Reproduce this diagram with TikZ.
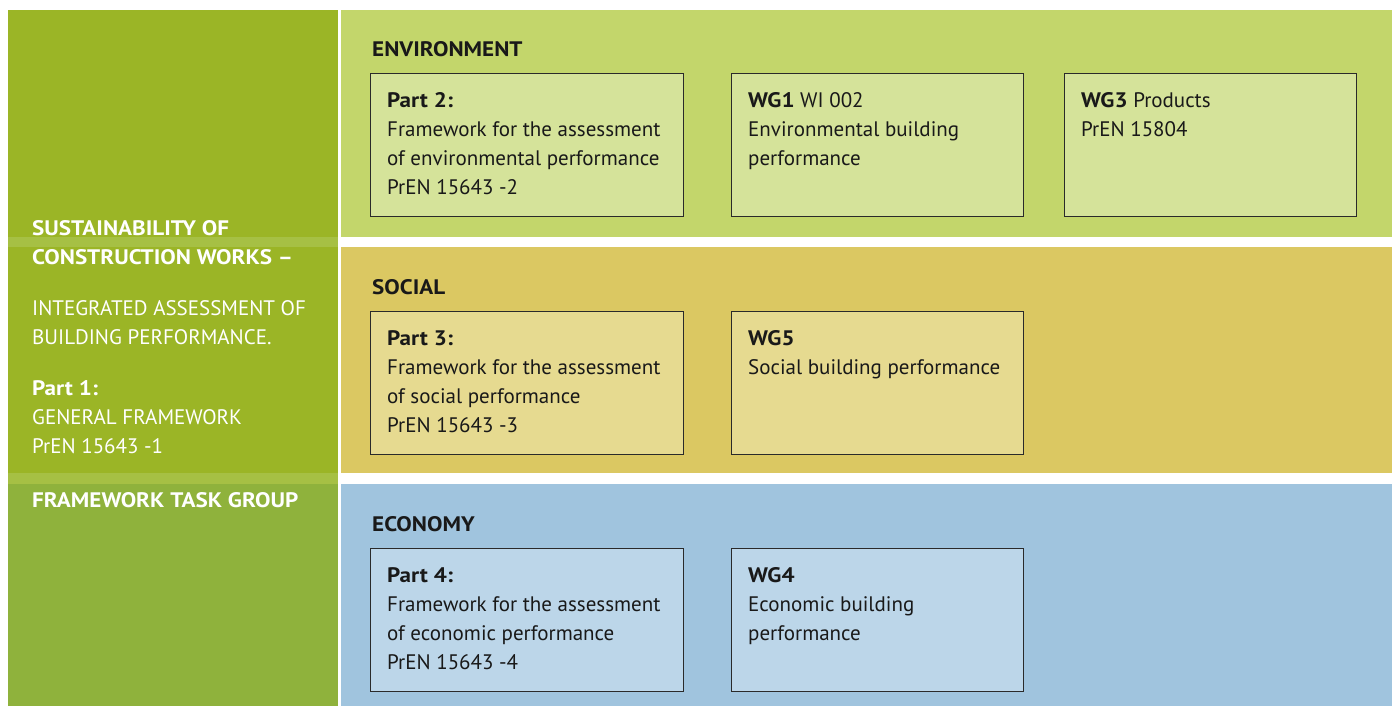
\documentclass[tikz,border=0pt]{standalone}
\usepackage{fontspec}
\setmainfont{PT Sans}[BoldFeatures={FakeStretch=1.1}]
\usetikzlibrary{positioning}

\definecolor{leftgreen}{HTML}{9BB526}
\definecolor{leftlight}{HTML}{A6C044}
\definecolor{leftlow}{HTML}{8FB23C}
\definecolor{envband}{HTML}{C3D66B}
\definecolor{envbox}{HTML}{D5E39A}
\definecolor{socband}{HTML}{DBC862}
\definecolor{socbox}{HTML}{E6DA90}
\definecolor{ecoband}{HTML}{A0C4DE}
\definecolor{ecobox}{HTML}{BCD6E9}
\definecolor{boxline}{HTML}{2A2A2A}

\tikzset{
  band/.style={draw=none, rectangle, anchor=north west, inner sep=0pt, minimum width=1051pt},
  partbox/.style={draw=boxline, line width=1.4pt, rectangle, anchor=north west, inner sep=0pt,
                  minimum height=143pt},
  boxtext/.style={anchor=north west, inner sep=0pt, align=left, text=black!90,
                  font=\fontsize{21}{29}\selectfont},
  head/.style={anchor=base west, inner sep=0pt, font=\fontsize{21}{29}\selectfont\bfseries, text=black!90},
  lefttext/.style={anchor=north west, inner sep=0pt, align=left, text=white,
                  font=\fontsize{21}{29}\selectfont}
}

\begin{document}
\begin{tikzpicture}[x=1pt, y=-1pt]
  \useasboundingbox (0,0) rectangle (1392,706);

  % left column
  \node (leftup) [band, fill=leftgreen, minimum width=330pt, minimum height=474pt] at (8,10) {};
  \node (leftdown) [band, fill=leftlow, minimum width=330pt, minimum height=222pt] at (8,484) {};
  \node (leftstripA) [band, fill=leftlight, minimum width=330pt, minimum height=10pt] at (8,237) {};
  \node (leftstripB) [band, fill=leftlight, minimum width=330pt, minimum height=11pt] at (8,473) {};

  % the three bands
  \node (env) [band, fill=envband, minimum height=227pt] at (341,10) {};
  \node (soc) [band, fill=socband, minimum height=226pt] at (341,247) {};
  \node (eco) [band, fill=ecoband, minimum height=222pt] at (341,484) {};

  % left column text
  \node (title) [lefttext] at (32,220) {\textbf{SUSTAINABILITY OF}\\
    \textbf{CONSTRUCTION WORKS –}\\[22pt]
    INTEGRATED ASSESSMENT OF\\
    BUILDING PERFORMANCE.\\[22pt]
    \textbf{Part 1:}\\
    GENERAL FRAMEWORK\\
    PrEN 15643 -1};
  \node (taskgroup) [lefttext] at (32,492) {\textbf{FRAMEWORK TASK GROUP}};

  % environment
  \node (envhead) [head] at (372,57) {ENVIRONMENT};
  \node (envpart) [partbox, fill=envbox, minimum width=313pt] at (370,73) {};
  \node (envwg1) [partbox, fill=envbox, minimum width=292pt] at (731,73) {};
  \node (envwg3) [partbox, fill=envbox, minimum width=292pt] at (1064,73) {};
  \node [boxtext] at ([shift={(17pt,-19pt)}]envpart.north west) {\textbf{Part 2:}\\
    Framework for the assessment\\ of environmental performance\\ PrEN 15643 -2};
  \node [boxtext] at ([shift={(17pt,-19pt)}]envwg1.north west) {\textbf{WG1} WI 002\\
    Environmental building\\ performance};
  \node [boxtext] at ([shift={(17pt,-19pt)}]envwg3.north west) {\textbf{WG3} Products\\
    PrEN 15804};

  % social
  \node (sochead) [head] at (372,294) {SOCIAL};
  \node (socpart) [partbox, fill=socbox, minimum width=313pt] at (370,311) {};
  \node (socwg5) [partbox, fill=socbox, minimum width=292pt] at (731,311) {};
  \node [boxtext] at ([shift={(17pt,-19pt)}]socpart.north west) {\textbf{Part 3:}\\
    Framework for the assessment\\ of social performance\\ PrEN 15643 -3};
  \node [boxtext] at ([shift={(17pt,-19pt)}]socwg5.north west) {\textbf{WG5}\\
    Social building performance};

  % economy
  \node (ecohead) [head] at (372,531) {ECONOMY};
  \node (ecopart) [partbox, fill=ecobox, minimum width=313pt] at (370,548) {};
  \node (ecowg4) [partbox, fill=ecobox, minimum width=292pt] at (731,548) {};
  \node [boxtext] at ([shift={(17pt,-19pt)}]ecopart.north west) {\textbf{Part 4:}\\
    Framework for the assessment\\ of economic performance\\ PrEN 15643 -4};
  \node [boxtext] at ([shift={(17pt,-19pt)}]ecowg4.north west) {\textbf{WG4}\\
    Economic building\\ performance};
\end{tikzpicture}
\end{document}
